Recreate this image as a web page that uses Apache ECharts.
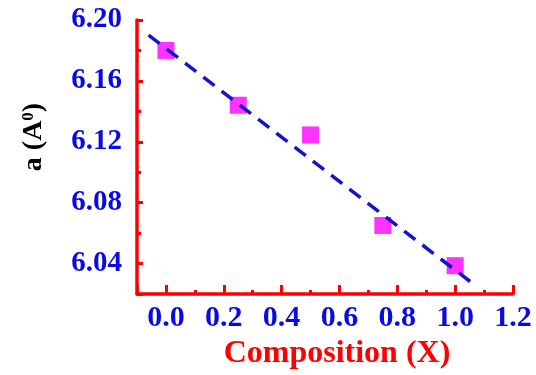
<!DOCTYPE html>
<html>
<head>
<meta charset="utf-8">
<script src="https://cdn.jsdelivr.net/npm/echarts@6/dist/echarts.min.js"></script>
<style>
  html, body { margin: 0; padding: 0; background: #fff; }
  #main { width: 536px; height: 375px; }
</style>
</head>
<body>
<div id="main"></div>
<script>
var composition = [0.0, 0.25, 0.5, 0.75, 1.0];
var latticeA = [6.180, 6.144, 6.1245, 6.065, 6.0386];
// linear fit drawn as a dashed line, endpoints
var fitX = [-0.06, 1.06];
var fitY = [6.190, 6.027];

var red = '#ff0000';
var blue = '#0a0ae6';
var font = 'Liberation Serif';
var plotBox = { left: 137, right: 23, top: 20, bottom: 81 };

var myChart = echarts.init(document.getElementById('main'));
myChart.setOption({
  animation: false,
  // second grid on top of the first one only carries the longer major ticks
  grid: [plotBox, plotBox],
  xAxis: [
    {
      type: 'value',
      gridIndex: 0,
      min: -0.1,
      max: 1.2,
      interval: 0.1,
      name: 'Composition (X)',
      nameLocation: 'middle',
      nameGap: 44,
      nameTextStyle: { color: red, fontFamily: font, fontWeight: 'bold', fontSize: 32, padding: [0, 0, 0, 24] },
      axisLine: { onZero: false, lineStyle: { color: red, width: 3.5 } },
      axisTick: { inside: true, length: 4, lineStyle: { color: red, width: 3 } },
      axisLabel: {
        color: blue, fontFamily: font, fontWeight: 'bold', fontSize: 30, margin: 9,
        formatter: function (v) { return Math.round(v * 10) % 2 === 0 ? v.toFixed(1) : ''; }
      },
      splitLine: { show: false }
    },
    {
      type: 'value', gridIndex: 1, inverse: true, min: 0, max: 13, interval: 2, position: 'bottom',
      axisLine: { show: false, onZero: false },
      axisTick: { inside: true, length: 9, lineStyle: { color: red, width: 3 } },
      axisLabel: { show: false },
      splitLine: { show: false }
    }
  ],
  yAxis: [
    {
      type: 'value',
      gridIndex: 0,
      min: 6.02,
      max: 6.20,
      interval: 0.02,
      name: 'a (A{sup|0})',
      nameLocation: 'middle',
      nameGap: 89,
      nameTextStyle: {
        color: '#000', fontFamily: font, fontWeight: 'bold', fontSize: 28, padding: [0, 0, 0, 40],
        rich: { sup: { fontFamily: font, fontWeight: 'bold', fontSize: 17, verticalAlign: 'top', padding: [0, 0, 10, 0] } }
      },
      axisLine: { onZero: false, lineStyle: { color: red, width: 3.5 } },
      axisTick: { inside: true, length: 4, lineStyle: { color: red, width: 3 } },
      axisLabel: {
        color: blue, fontFamily: font, fontWeight: 'bold', fontSize: 29, margin: 15,
        formatter: function (v) { return Math.round(v * 100) % 4 === 0 ? v.toFixed(2) : ''; }
      },
      splitLine: { show: false }
    },
    {
      type: 'value', gridIndex: 1, inverse: true, min: 0, max: 9, interval: 2, position: 'left',
      axisLine: { show: false, onZero: false },
      axisTick: { inside: true, length: 6, lineStyle: { color: red, width: 3 } },
      axisLabel: { show: false },
      splitLine: { show: false }
    }
  ],
  series: [
    {
      type: 'line',
      data: fitX.map(function (x, i) { return [x, fitY[i]]; }),
      showSymbol: false,
      lineStyle: { color: '#1414c8', width: 3.5, type: [14, 9] },
      z: 3
    },
    {
      type: 'scatter',
      data: composition.map(function (x, i) { return [x, latticeA[i]]; }),
      symbol: 'rect',
      symbolSize: 17,
      itemStyle: { color: '#ff00ff' },
      z: 2
    }
  ]
});
</script>
</body>
</html>
